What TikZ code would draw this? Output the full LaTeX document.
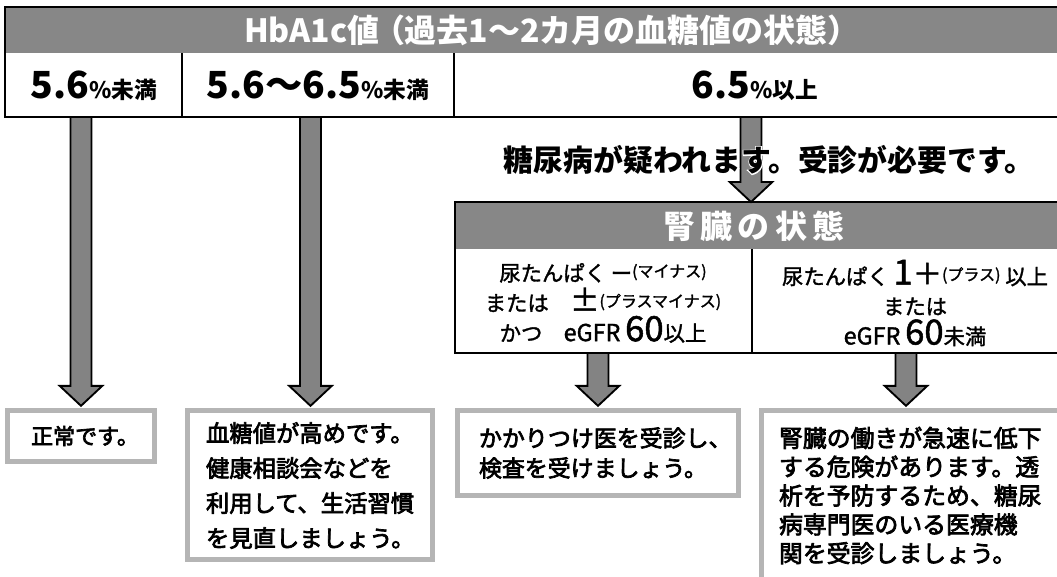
\documentclass[tikz,border=0pt]{standalone}
\usepackage{fontspec}
\setmainfont{Noto Sans CJK JP}
\newfontfamily\jpsemi[FakeBold=3]{Noto Sans CJK JP}
\newfontfamily\jpmid[FakeBold=1.5]{Noto Sans CJK JP}
\newfontfamily\jphalo[FakeBold=9]{Noto Sans CJK JP Bold}
\usetikzlibrary{calc,fit}
\definecolor{hdrgray}{HTML}{878787}
\definecolor{arrgray}{HTML}{838383}
\definecolor{boxgray}{HTML}{B5B5B5}
\newcommand\fs[2]{\fontsize{#1}{#2}\selectfont}
\newcommand\paren[1]{\raisebox{3pt}{\fs{12}{12}#1}}
\tikzset{
  frame/.style={draw=black, line width=1.1pt},
  divider/.style={draw=black, line width=0.9pt},
  fatarr/.style={fill=arrgray, draw=black, line width=1.4pt, line join=miter},
  outbox/.style={draw=boxgray, line width=3.75pt, inner sep=0pt, outer sep=0pt, fill=white},
  area/.style={inner sep=0pt, outer sep=0pt},
  txt/.style={inner sep=0pt, outer sep=0pt, text=black, align=center},
}
% fat arrow from a source point down to a target (x taken from the source)
\newcommand\fatarrow[3][3.5pt]{%
  \draw[fatarr] let \p1=(#2), \p2=(#3) in
    (\x1-7.9pt,\y1) -- (\x1+7.9pt,\y1) -- (\x1+7.9pt,\y2+#1+15pt)
    -- (\x1+16pt,\y2+#1+15pt) -- (\x1,\y2+#1) -- (\x1-16pt,\y2+#1+15pt)
    -- (\x1-7.9pt,\y2+#1+15pt) -- cycle;}
\begin{document}
\begin{tikzpicture}[x=0.75pt,y=-0.75pt]
\useasboundingbox (0,0) rectangle (1057,576);
\fill[white] (0,0) rectangle (1057,576);
\clip (0,0) rectangle (1057,576);

% ---- HbA1c header and value row
\node[area, fill=hdrgray, fit={(5,7)(1062,53)}] (hdr) {};
\node[area, fit={(5,53)(182,117)}] (c1) {};
\node[area, fit={(182,53)(454,117)}] (c2) {};
\node[area, fit={(454,53)(1062,117)}] (c3) {};
\draw[frame] (hdr.north east) -- (hdr.north west) -- (c1.south west) -- (c3.south east);
\draw[divider] (c1.north east) -- (c1.south east);
\draw[divider] (c2.north east) -- (c2.south east);

\node[txt, text=white, font=\bfseries\fs{24}{28}] (title) at (552,30)
  {HbA1c値\hspace{-5pt}（過去1〜2カ月の血糖値の状態）};
\node[txt, font=\bfseries] (r1) at (94,86) {\fs{28}{30}5.6\fs{17}{20}\%未満};
\node[txt, font=\bfseries] (r2) at (318,86) {\fs{28}{30}5.6〜6.5\fs{17}{20}\%未満};
\node[txt, font=\bfseries] (r3) at (755,86) {\fs{28}{30}6.5\fs{17}{20}\%以上};

% ---- kidney table
\node[area, fill=hdrgray, fit={(455,202)(1062,249)}] (kh) {};
\node[area, fit={(455,249)(752,353)}] (kl) {};
\node[area, fit={(752,249)(1062,353)}] (kr) {};
\draw[frame] (kh.north east) -- (kh.north west) -- (kl.south west) -- (kr.south east);
\draw[divider] (kl.north east) -- (kl.south east);

% ---- result boxes
\node[outbox, fit={(7.5,410.5)(154.5,461.5)}] (b1) {};
\node[outbox, fit={(187.5,410.5)(432.5,559.5)}] (b2) {};
\node[outbox, fit={(457.5,410.5)(738.5,495.5)}] (b3) {};
\node[outbox, fit={(761.5,410.5)(1080,600)}] (b4) {};

% ---- arrows
\coordinate (s1) at (81,117);
\coordinate (s2) at (310.5,117);
\coordinate (s3) at (751,117);
\coordinate (s4) at (598,353);
\coordinate (s5) at (906,353);
\fatarrow{s1}{b1.north}
\fatarrow{s2}{b2.north}
\fatarrow[0pt]{s3}{kh.north}
\fatarrow{s4}{b3.north}
\fatarrow{s5}{b4.north}

% ---- texts
\node[txt, text=white, font=\jphalo\fs{22.4}{26}] (diabhalo) at (769,160)
  {糖尿病が疑われます。受診が必要です。};
\node[txt, font=\bfseries\fs{22.4}{26}] (diab) at (769,160)
  {糖尿病が疑われます。受診が必要です。};
\node[txt, text=white, font=\bfseries\fs{24}{28}] (ktitle) at (754,226)
  {腎\hspace{4pt}臓\hspace{4pt}の\hspace{4pt}状\hspace{4pt}態};
\node[txt, font=\jpmid\fs{16}{22.5}] (k1) at (603,303)
  {尿たんぱく ー\paren{(マイナス)}\\
   または　{\fs{22}{22}±}\paren{(プラスマイナス)}\\
   かつ　{\fs{17.5}{20}eGFR} {\fs{26}{22}60}以上};
\node[txt, font=\jpmid\fs{16}{22.5}] (k2) at (915,303)
  {尿たんぱく {\fs{26}{22}1}{\fs{22}{22}＋}\paren{(プラス)} 以上\\
   または\\
   {\fs{17.5}{20}eGFR} {\fs{26}{22}60}未満};

\node[txt, font=\jpsemi\fs{16.5}{20}] (t1) at (85,436) {正常です。};
\node[txt, align=left, anchor=west, font=\jpsemi\fs{17.5}{26.25}] (t2) at (206,485.5)
  {血糖値が高めです。\\健康相談会などを\\利用して、生活習慣\\を見直しましょう。};
\node[txt, align=left, anchor=west, font=\jpsemi\fs{17.2}{22.5}] (t3) at (479,453)
  {かかりつけ医を受診し、\\検査を受けましょう。};
\node[txt, align=left, anchor=west, font=\jpsemi\fs{17.9}{21.6}] (t4) at (779,495.5)
  {腎臓の働きが急速に低下\\する危険があります。透\\析を予防するため、糖尿\\病専門医のいる医療機\\関を受診しましょう。};
\end{tikzpicture}
\end{document}
